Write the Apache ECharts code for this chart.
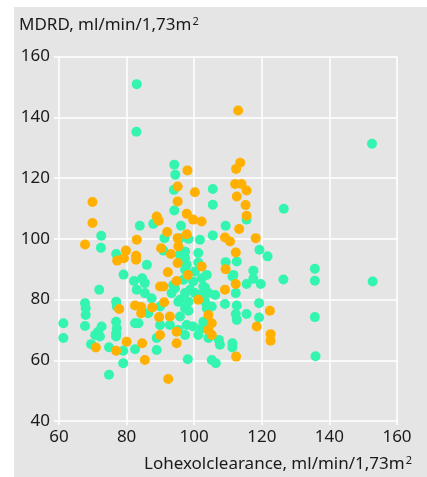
<!DOCTYPE html>
<html><head><meta charset="utf-8">
<script src="https://cdn.jsdelivr.net/npm/echarts@6/dist/echarts.min.js"></script>
<style>html,body{margin:0;padding:0;background:#fff}#c{width:427px;height:477px}</style>
</head><body><div id="c"></div>
<script>
var xTicks = [60, 80, 100, 120, 140, 160];
var yTicks = [40, 60, 80, 100, 120, 140, 160];
var yTitle = 'MDRD, ml/min/1,73m';
var xTitle = 'Lohexolclearance, ml/min/1,73m';

var tealPoints = [
[72.5,101.0],[72.4,97.0],[76.9,95.0],[83.9,104.3],[86.0,91.4],[79.1,88.2],[87.9,104.9],[91.2,100.2],[90.9,96.1],
[94.1,124.4],[94.4,121.1],[94.0,116.1],[94.1,109.3],[95.8,100.2],
[105.5,116.4],[105.5,111.2],[115.5,106.3],[126.5,109.9],[96.1,104.3],[98.3,99.9],[101.7,99.7],[105.5,101.1],[109.3,104.3],
[119.3,96.4],[121.7,94.2],[109.3,92.3],[112.6,92.5],[117.5,89.5],[111.6,88.1],[97.3,95.8],[97.3,93.6],[97.8,91.4],[95.8,94.7],
[101.2,95.3],[101.2,92.2],[103.7,88.1],[126.4,86.6],
[71.9,83.2],[67.7,78.8],[67.9,77.1],[67.9,74.9],[61.3,72.2],[61.3,67.3],[67.7,71.3],[72.6,71.1],[71.6,69.4],[70.7,68.3],[72.1,67.8],
[69.5,65.3],[74.8,64.3],[79.0,63.1],[82.5,63.6],[79.0,59.0],[74.8,55.2],[76.9,79.3],[77.1,77.7],[76.9,72.7],[77.1,70.5],[76.9,68.9],[76.9,67.8],
[82.5,72.2],[83.5,72.2],[82.2,86.1],[84.6,87.0],[85.4,85.4],[83.0,83.2],[85.4,82.1],[87.4,80.4],[86.4,75.5],[89.9,77.7],[89.9,71.6],[92.8,71.6],
[94.3,83.7],[95.3,79.3],[88.9,67.3],[88.9,63.4],
[96.8,86.5],[99.7,85.9],[102.2,87.0],[103.2,83.9],[98.8,83.2],[97.3,82.1],[100.2,82.1],[111.3,87.6],[112.3,82.1],[115.5,85.1],[117.5,86.8],[119.7,85.1],
[95.8,79.9],[98.3,79.3],[97.3,77.1],[98.3,76.3],[95.8,74.4],[103.2,79.3],[103.7,77.1],[105.2,77.7],[109.1,78.5],[112.6,78.0],[119.2,78.8],
[115.5,75.2],[112.3,75.2],[112.6,73.3],[119.2,74.1],[102.7,72.7],[102.2,70.5],[101.2,68.3],[104.2,67.3],[97.8,71.6],[99.7,71.1],[97.3,68.3],[95.3,70.0],
[107.3,66.7],[107.6,65.1],[111.3,65.6],[111.3,64.2],[98.1,60.3],[105.2,60.1],[106.4,59.0],
[135.7,90.1],[135.7,86.2],[152.8,85.9],[135.7,74.2],[135.9,61.3],
[83.0,150.9],[82.9,135.2],[152.6,131.3],
[93.8,84.8],[102.7,84.3],[93.3,82.1],[101.7,81.5],[104.2,82.1],[106.2,81.5],[97.3,89.8],[100.2,89.2]
];

var orangePoints = [
[69.9,112.1],[69.9,105.2],[67.7,98.1],[79.8,96.1],[77.2,92.8],[79.2,93.6],[82.8,94.4],[82.8,93.1],[83.0,99.7],[88.9,107.3],[89.5,105.9],
[92.0,102.2],[90.2,96.9],[93.1,95.0],[95.1,117.2],[95.1,112.3],[95.1,100.2],[95.3,97.5],[92.2,89.0],
[113.6,125.0],[112.4,123.0],[98.0,122.5],[112.1,118.0],[114.0,118.0],[115.5,115.9],[112.6,113.9],[100.2,115.3],[115.2,111.1],[115.5,107.6],
[97.8,108.2],[99.7,106.3],[102.2,105.7],[97.8,101.5],[113.3,103.2],[109.1,100.4],[110.6,99.1],[118.2,100.2],[112.3,95.5],[109.3,90.0],
[102.2,90.9],[95.1,92.0],[98.1,88.1],
[70.9,64.2],[76.9,63.1],[80.0,66.1],[84.6,65.6],[85.4,60.1],[92.3,53.8],[77.8,76.9],[82.5,78.0],[84.3,77.5],[84.3,75.5],[89.9,84.3],[90.9,84.3],
[94.8,86.1],[87.6,77.4],[91.1,79.1],[89.6,74.2],[92.8,74.4],[89.9,68.3],[94.8,69.4],[94.8,65.6],
[109.1,83.2],[112.3,85.1],[101.2,79.9],[122.4,76.3],[118.5,71.1],[104.2,74.9],[105.2,72.2],[104.2,70.0],[105.2,68.3],[112.4,61.2],[122.6,68.6],[122.6,66.4],
[113.0,142.2]
];

var FONT = 'Noto Sans';
var chart = echarts.init(document.getElementById('c'), null, {renderer: 'canvas'});
chart.setOption({
  animation: false,
  backgroundColor: '#ffffff',
  graphic: [
    {type: 'rect', z: -10, silent: true, shape: {x: 14, y: 7, width: 413, height: 470}, style: {fill: '#e5e5e5'}},
    {type: 'text', left: 19, top: 16, z: 10, style: {
      text: yTitle + '{sup|2}', fill: '#1a1a1a', font: '17px "' + FONT + '"',
      rich: {sup: {fontSize: 11, verticalAlign: 'top', padding: [0,0,8,1], fontFamily: FONT, fill: '#1a1a1a'}}
    }},
    {type: 'text', right: 15, top: 455, z: 10, style: {
      text: xTitle + '{sup|2}', fill: '#1a1a1a', font: '17px "' + FONT + '"',
      rich: {sup: {fontSize: 11, verticalAlign: 'top', padding: [0,0,8,1], fontFamily: FONT, fill: '#1a1a1a'}}
    }}
  ],
  grid: {left: 59, right: 30, top: 56.5, bottom: 56, containLabel: false},
  xAxis: {
    type: 'value', min: xTicks[0], max: xTicks[xTicks.length-1], interval: 20,
    axisLine: {show: false},
    axisTick: {show: true, length: 4, lineStyle: {color: '#ffffff', width: 1.5}},
    splitLine: {show: true, lineStyle: {color: '#ffffff', width: 1.5}},
    axisLabel: {color: '#1a1a1a', fontSize: 17, fontFamily: FONT, margin: 8}
  },
  yAxis: {
    type: 'value', min: yTicks[0], max: yTicks[yTicks.length-1], interval: 20,
    axisLine: {show: false},
    axisTick: {show: true, length: 5, lineStyle: {color: '#ffffff', width: 1.5}},
    splitLine: {show: true, lineStyle: {color: '#ffffff', width: 1.5}},
    axisLabel: {color: '#1a1a1a', fontSize: 17, fontFamily: FONT, margin: 9}
  },
  series: [
    {type: 'scatter', data: tealPoints, symbolSize: 10, itemStyle: {color: '#33f5b0', opacity: 1}},
    {type: 'scatter', data: orangePoints, symbolSize: 10, itemStyle: {color: '#ffb000', opacity: 1}}
  ]
});
</script></body></html>
